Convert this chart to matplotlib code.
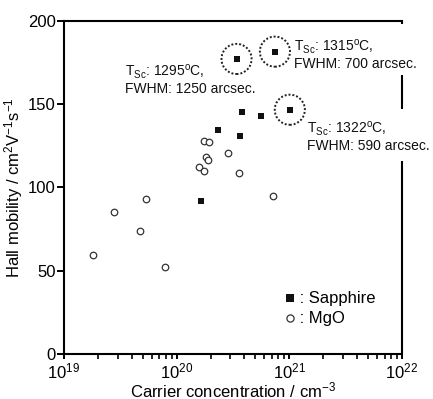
import matplotlib
matplotlib.use("Agg")
import matplotlib.pyplot as plt
import numpy as np

plt.rcParams["font.family"] = ["Liberation Sans", "DejaVu Sans"]
plt.rcParams["mathtext.fontset"] = "custom"
plt.rcParams["mathtext.rm"] = "Liberation Sans"
plt.rcParams["mathtext.it"] = "Liberation Sans"

# Sapphire substrates (filled squares)
sapphire_n = [3.4e20, 7.45e20, 1.01e21, 3.8e20, 5.6e20, 2.34e20, 3.67e20, 1.64e20]
sapphire_mu = [177.2, 181.6, 146.7, 145.2, 142.7, 134.7, 130.7, 91.9]

# MgO substrates (open circles)
mgo_n = [1.75e20, 1.92e20, 2.85e20, 1.82e20, 1.9e20, 1.59e20, 1.75e20,
         3.55e20, 7.2e20, 5.3e19, 2.78e19, 4.73e19, 1.8e19, 7.9e19]
mgo_mu = [128.1, 127.1, 120.9, 118.1, 116.5, 112.1, 109.7,
          108.9, 95.1, 93.1, 85.1, 74.1, 59.5, 52.1]

# highlighted samples: (n, mu, label text, label position)
notes = [
    (3.4e20, 177.2, "T$_{\\mathrm{Sc}}$: 1295$^{\\mathrm{o}}$C,\nFWHM: 1250 arcsec.", (3.5e19, 175)),
    (7.45e20, 181.6, "T$_{\\mathrm{Sc}}$: 1315$^{\\mathrm{o}}$C,\nFWHM: 700 arcsec.", (1.1e21, 190)),
    (1.01e21, 146.7, "T$_{\\mathrm{Sc}}$: 1322$^{\\mathrm{o}}$C,\nFWHM: 590 arcsec.", (1.43e21, 141)),
]

fig = plt.figure(figsize=(4.33, 3.99), dpi=100)
ax = fig.add_axes([0.1478, 0.1128, 0.7806, 0.8346])

ax.scatter(sapphire_n, sapphire_mu, marker="s", s=22, color="#111111",
           linewidths=0, zorder=3, label=" : Sapphire")
ax.scatter(mgo_n, mgo_mu, marker="o", s=22, facecolor="white",
           edgecolor="#333333", linewidths=0.9, zorder=3, label=" : MgO")

for n, mu, txt, pos in notes:
    ax.scatter([n], [mu], marker="o", s=470, facecolor="none",
               edgecolor="#222222", linewidths=1.4, linestyle=(0, (1, 1)), zorder=2)
    ax.text(pos[0], pos[1], txt, fontsize=10, va="top", ha="left",
            linespacing=1.1, color="#111111")

ax.set_xscale("log")
ax.set_xlim(1e19, 1e22)
ax.set_ylim(0, 200)
ax.set_yticks([0, 50, 100, 150, 200])
ax.set_xticks([1e19, 1e20, 1e21, 1e22])
ax.set_xticklabels(["10$^{19}$", "10$^{20}$", "10$^{21}$", "10$^{22}$"])
ax.tick_params(axis="y", which="both", direction="out", length=5, width=1.4,
               labelsize=12, pad=1)
ax.tick_params(axis="x", which="both", direction="out", length=3.5, width=1.4,
               labelsize=12, pad=2)
ax.tick_params(axis="x", which="minor", length=3.5, width=1.2)

ax.set_xlabel("Carrier concentration / cm$^{-3}$", fontsize=12, labelpad=-1)
ax.set_ylabel("Hall mobility / cm$^{2}$V$^{-1}$s$^{-1}$", fontsize=12, labelpad=2)

for s in ["left", "bottom", "top"]:
    ax.spines[s].set_linewidth(1.5)
ax.spines["right"].set_visible(False)
# right spine broken around the labels
for y0, y1 in [(1.0, 0.99), (0.837, 0.737), (0.58, 0.0)]:
    ax.plot([1, 1], [y0, y1], transform=ax.transAxes, color="black",
            linewidth=1.5, clip_on=False, solid_capstyle="butt")

ax.legend(loc="lower left", bbox_to_anchor=(0.62, 0.06), frameon=False,
          fontsize=12, handletextpad=-0.2, handlelength=1.0,
          labelspacing=0.3, borderpad=0, markerscale=1.1)

fig.savefig("out.png", dpi=100)
